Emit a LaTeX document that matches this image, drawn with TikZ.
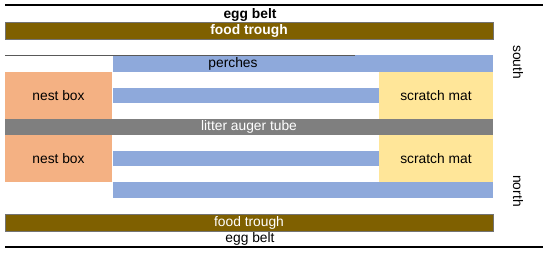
\documentclass[tikz,border=0pt]{standalone}
\usepackage{fontspec}
\setmainfont{Liberation Sans}
\usetikzlibrary{positioning}
\definecolor{trough}{HTML}{7F6000}
\definecolor{perch}{HTML}{8EA9DB}
\definecolor{nest}{HTML}{F4B183}
\definecolor{mat}{HTML}{FFE699}
\definecolor{auger}{HTML}{7F7F7F}
\begin{document}
\begin{tikzpicture}[x=1pt, y=-1pt,
    bar/.style={rectangle, inner sep=0pt, outer sep=0pt, anchor=north west,
      font=\fontsize{13.8}{15}\selectfont},
    troughbar/.style={bar, fill=trough, draw=black!55, line width=0.5pt, text=white},
    perchbar/.style={bar, fill=perch},
    nestbox/.style={bar, fill=nest, minimum width=107pt, minimum height=47pt},
    matbox/.style={bar, fill=mat, minimum width=114pt, minimum height=47pt},
    label/.style={inner sep=0pt, font=\fontsize{13.8}{15}\selectfont},
    belt/.style={line width=1.1pt, black}
  ]
    \useasboundingbox (0,0) rectangle (550,253);

    % Egg belts
    \coordinate (beltSa) at (5,5);
    \coordinate (beltSb) at (543,5);
    \draw[belt] (beltSa) -- (beltSb);
    \node[label, font=\fontsize{13.8}{15}\selectfont\bfseries] (eggS) at (250,15) {egg belt};
    \coordinate (beltNa) at (5,247);
    \coordinate (beltNb) at (543,247);
    \draw[belt] (beltNa) -- (beltNb);
    \node[label] (eggN) at (250,239) {egg belt};

    % Food troughs
    \node[troughbar, minimum width=488pt, minimum height=17pt,
      font=\fontsize{13.8}{15}\selectfont\bfseries] (troughS) at (5,22) {food trough};
    \node[troughbar, minimum width=488pt, minimum height=17pt] (troughN) at (5,214) {food trough};

    % Perches
    \node[perchbar, minimum width=380pt, minimum height=17pt] (perch1) at (113,55) {};
    \node[label] (perchlbl) at (233,64) {perches};
    \node[perchbar, minimum width=266pt, minimum height=15pt] (perch2) at (113,88) {};
    \node[perchbar, minimum width=266pt, minimum height=15pt] (perch3) at (113,151) {};
    \node[perchbar, minimum width=380pt, minimum height=16pt] (perch4) at (113,182) {};
    \coordinate (edgeA) at (5,55);
    \coordinate (edgeB) at (355,55);
    \draw[black!65, line width=0.8pt] (edgeA) -- (edgeB);

    % Nest boxes and scratch mats
    \node[nestbox] (nestS) at (5,72) {nest box};
    \node[matbox] (matS) at (379,72) {scratch mat};
    \node[nestbox] (nestN) at (5,135) {nest box};
    \node[matbox] (matN) at (379,135) {scratch mat};

    % Litter auger tube
    \node[bar, fill=auger, text=white, minimum width=488pt, minimum height=16pt] (auger) at (5,119) {litter auger tube};

    % Directions
    \node[label, rotate=-90] (south) at (518,62) {south};
    \node[label, rotate=-90] (north) at (518,191) {north};
\end{tikzpicture}
\end{document}
